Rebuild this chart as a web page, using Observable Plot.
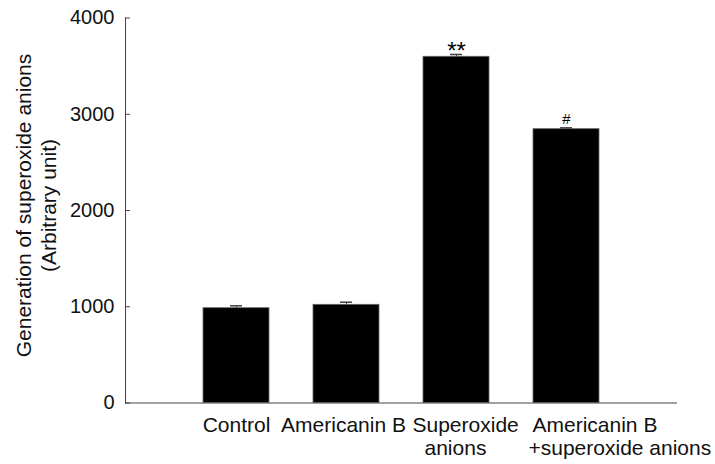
<!DOCTYPE html>
<html><head><meta charset="utf-8">
<script src="https://cdn.jsdelivr.net/npm/d3@7"></script>
<script src="https://cdn.jsdelivr.net/npm/@observablehq/plot@0.6"></script>
<style>body{margin:0;background:#fff}</style>
</head><body><div id="chart"></div>
<script>
const groups = ["Control", "Americanin B", "Superoxide\nanions", "Americanin B\n+superoxide anions"];
const means = [985, 1020, 3597, 2845];
const errors = [25, 27, 24, 14];
const signif = ["", "", "**", "#"];
const yTicks = [0, 1000, 2000, 3000, 4000];
const yLabelLines = ["Generation of superoxide anions", "(Arbitrary unit)"];

const data = groups.map((g, i) => ({group: g, mean: means[i], err: errors[i], mark: signif[i]}));

// layout (not data)
const W = 715, H = 464, mL = 125, mR = 38, mT = 17.5, mB = 61.5;
const font = "'Liberation Sans', Arial, sans-serif";

// label line layout: [anchor, per-line offset from band centre]
const labelLayout = [["middle", [0]], ["middle", [-3]], ["start", [-44, -32]], ["start", [-34, -38]]];
const labelMarks = [];
groups.forEach((g, i) => {
  const lines = g.split("\n");
  const [anchor, offs] = labelLayout[i];
  lines.forEach((line, j) => {
    labelMarks.push(Plot.text([{group: g, line}], {
      x: "group", y: () => 0, text: "line", textAnchor: anchor, lineAnchor: "bottom",
      dx: offs[j], dy: 28.5 + j * 23, fontSize: 21, fill: "#111"
    }));
  });
});

const signifStyle = {"**": {fontSize: 24, dy: 5}, "#": {fontSize: 15, dy: -4}};
const signifMarks = Object.entries(signifStyle).map(([m, s]) =>
  Plot.text(data.filter(d => d.mark === m), {
    x: "group", y: d => d.mean + d.err, text: "mark", lineAnchor: "bottom",
    dy: s.dy, fontSize: s.fontSize, fill: "#000"
  }));

const chart = Plot.plot({
  width: W, height: H,
  marginLeft: mL, marginRight: mR, marginTop: mT, marginBottom: mB,
  style: {fontFamily: font, background: "#fff", color: "#111"},
  x: {domain: groups, paddingInner: 0.4, paddingOuter: 0.7, axis: null},
  y: {domain: [0, 4000], axis: null},
  marks: [
    Plot.barY(data, {x: "group", y: "mean", fill: "#000", stroke: "#666", strokeWidth: 0.8}),
    Plot.ruleX(data, {x: "group", y1: "mean", y2: d => d.mean + d.err, stroke: "#444"}),
    Plot.tickY(data, {x: "group", y: d => d.mean + d.err, insetLeft: 27, insetRight: 27, stroke: "#444", strokeWidth: 1.5}),
    ...signifMarks,
    Plot.axisY({ticks: yTicks, tickSize: 5, dx: 5, text: null, label: null, stroke: "#444"}),
    Plot.axisY({ticks: yTicks, tickSize: 0, tickPadding: 11, tickFormat: d3.format("d"), label: null, fontSize: 20, fill: "#111"}),
    ...labelMarks,
    Plot.ruleY([0], {stroke: "#444"}),
    Plot.frame({anchor: "left", stroke: "#444"}),
    Plot.text([yLabelLines[0]], {frameAnchor: "left", text: d => d, rotate: -90, textAnchor: "middle", lineAnchor: "bottom", dx: -95, dy: -5, fontSize: 21, fill: "#111"}),
    Plot.text([yLabelLines[1]], {frameAnchor: "left", text: d => d, rotate: -90, textAnchor: "middle", lineAnchor: "bottom", dx: -69.5, dy: -5, fontSize: 21, fill: "#111"})
  ]
});
document.getElementById("chart").appendChild(chart);
</script>
</body></html>
